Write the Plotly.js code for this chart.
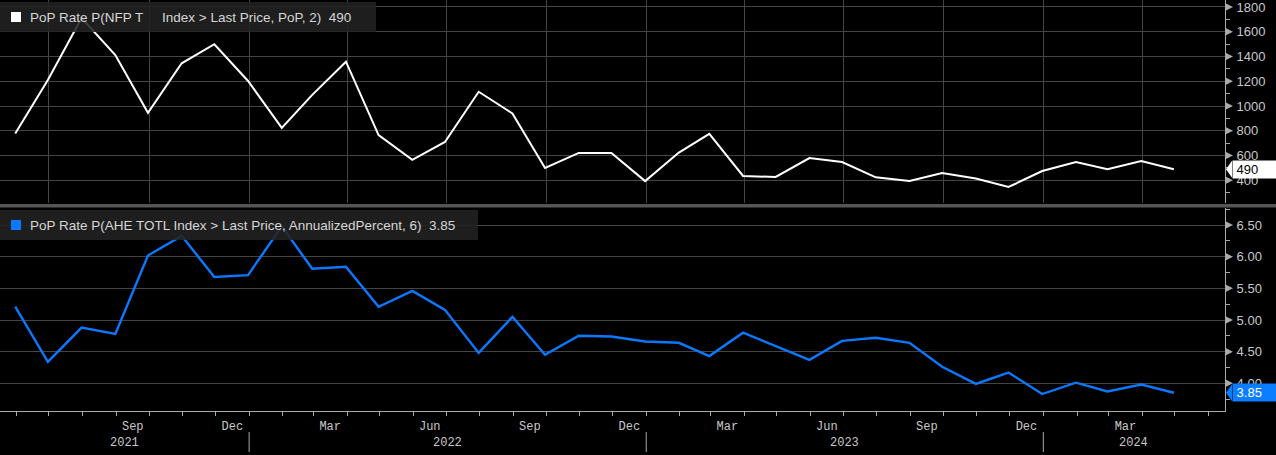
<!DOCTYPE html>
<html><head><meta charset="utf-8">
<script src="https://cdn.plot.ly/plotly-3.0.1.min.js"></script>
<style>html,body{margin:0;padding:0;background:#000;}#chart{width:1276px;height:455px;}</style>
</head><body><div id="chart"></div>
<script>
// ---- data ----
const months = ['2021-05-31','2021-06-30','2021-07-31','2021-08-31','2021-09-30','2021-10-31','2021-11-30','2021-12-31',
  '2022-01-31','2022-02-28','2022-03-31','2022-04-30','2022-05-31','2022-06-30','2022-07-31','2022-08-31','2022-09-30','2022-10-31','2022-11-30','2022-12-31',
  '2023-01-31','2023-02-28','2023-03-31','2023-04-30','2023-05-31','2023-06-30','2023-07-31','2023-08-31','2023-09-30','2023-10-31','2023-11-30','2023-12-31',
  '2024-01-31','2024-02-29','2024-03-31','2024-04-30'];
const nfpPoP2 = [778,1210,1710,1412,945,1345,1499,1202,824,1090,1358,765,565,710,1115,940,500,621,621,394,624,775,435,427,580,548,424,394,459,415,346,475,548,489,556,490];
const aheAnnualized = [5.21,4.34,4.88,4.78,6.02,6.33,5.68,5.71,6.48,5.81,5.84,5.21,5.46,5.16,4.48,5.05,4.45,4.75,4.74,4.66,4.64,4.43,4.80,4.59,4.37,4.67,4.72,4.64,4.26,3.99,4.17,3.83,4.01,3.87,3.98,3.85];
const years = ['2021','2022','2023','2024'];
const monthTicks = ['2021-09','2021-12','2022-03','2022-06','2022-09','2022-12',
  '2023-03','2023-06','2023-09','2023-12','2024-03'];
const monthTickText = ['Sep','Dec','Mar','Jun','Sep','Dec','Mar','Jun','Sep','Dec','Mar'];
const nameTop = 'PoP Rate P(NFP T\u00a0\u00a0\u00a0\u00a0\u00a0Index > Last Price, PoP, 2)';
const nameBottom = 'PoP Rate P(AHE TOTL Index > Last Price, AnnualizedPercent, 6)';

// ---- geometry / style ----
const W = 1276, H = 455, ML = 0, MR = 51, MT = 0, MB = 44;
const PW = W - ML - MR, PH = H - MT - MB;
const px = v => (v - ML) / PW;
const py = v => 1 - (v - MT) / PH;
const xRange = ['2021-05-17', '2024-06-16'];
const topRange = [217, 1856], botRange = [3.562, 6.77];
const grid = '#444444', axisCol = '#aaaaaa', tickTxt = '#c8c8c8';
const blue = '#0a78ff';
const monoFont = 'Liberation Mono, DejaVu Sans Mono, monospace';
const sansFont = 'Liberation Sans, Arial, sans-serif';

// month labels centred in their month
function monthMid(ym) {
  const [y, m] = ym.split('-').map(Number);
  const a = Date.UTC(y, m - 1, 1), b = Date.UTC(y, m, 1);
  return new Date((a + b) / 2).toISOString().slice(0, 19).replace('T', ' ');
}
const monthTickPos = monthTicks.map(monthMid);

const traces = [
  {x: months, y: nfpPoP2, xaxis: 'x2', yaxis: 'y2', type: 'scatter', mode: 'lines',
   line: {color: '#ffffff', width: 2}, hoverinfo: 'skip', showlegend: false},
  {x: months, y: aheAnnualized, xaxis: 'x', yaxis: 'y', type: 'scatter', mode: 'lines',
   line: {color: blue, width: 2.4}, hoverinfo: 'skip', showlegend: false}
];

const shapes = [];
const annotations = [];

// separator bar between panels
shapes.push({type: 'rect', xref: 'paper', yref: 'paper', x0: px(0), x1: px(W), y0: py(204), y1: py(207.5),
  fillcolor: '#555555', line: {width: 0}, layer: 'above'});

// tick triangles on right axes
function triangles(yref, range, step) {
  const start = Math.ceil(range[0] / step) * step;
  for (let v = start; v <= range[1] + 1e-9; v += step) {
    shapes.push({type: 'path', xref: 'paper', yref: yref, ysizemode: 'pixel', yanchor: v,
      path: `M 1 4 L ${1 + 8 / PW} 0 L 1 -4 Z`, fillcolor: axisCol, line: {width: 0}, layer: 'above'});
  }
}
triangles('y2', topRange, 200);
triangles('y', botRange, 0.5);

// legend boxes + squares + texts
function legendBox(top, right, color, text) {
  shapes.push({type: 'rect', xref: 'paper', yref: 'paper', x0: px(0), x1: px(right), y0: py(top), y1: py(top + 30),
    fillcolor: 'rgba(34,34,34,0.88)', line: {width: 0}, layer: 'above'});
  shapes.push({type: 'rect', xref: 'paper', yref: 'paper', x0: px(11), x1: px(21), y0: py(top + 10), y1: py(top + 20),
    fillcolor: color, line: {width: 0}, layer: 'above'});
  annotations.push({xref: 'paper', yref: 'paper', x: px(28), y: py(top + 15.5), xanchor: 'left', yanchor: 'middle',
    showarrow: false, text: text, font: {family: sansFont, size: 13.5, color: '#d6d6d6'}});
}
const lastTop = nfpPoP2[nfpPoP2.length - 1];
const lastBot = aheAnnualized[aheAnnualized.length - 1];
legendBox(2, 376, '#ffffff', nameTop + '\u00a0\u00a0' + lastTop);
legendBox(210, 478, blue, nameBottom + '\u00a0\u00a0' + lastBot.toFixed(2));

// last value badges
function badge(yref, v, txt, bg, fg) {
  shapes.push({type: 'path', xref: 'paper', yref: yref, ysizemode: 'pixel', yanchor: v,
    path: `M ${1 + 1 / PW} 0 L ${1 + 7 / PW} 8.5 L ${1 + 7 / PW} -8.5 Z`, fillcolor: bg, line: {width: 0}, layer: 'above'});
  annotations.push({xref: 'paper', yref: yref, x: 1 + 7 / PW, y: v, xanchor: 'left', yanchor: 'middle',
    showarrow: false, text: txt, align: 'left', width: 45, height: 17, borderpad: 0, bgcolor: bg,
    font: {family: sansFont, size: 13, color: fg}});
}
badge('y2', lastTop, '\u00a0' + lastTop, '#ffffff', '#000000');
badge('y', lastBot, '\u00a0' + lastBot.toFixed(2), '#0b7dff', '#ffffff');

// year labels and separators
const r0 = new Date(xRange[0]).getTime(), r1 = new Date(xRange[1]).getTime();
years.forEach((yr, i) => {
  const s = Math.max(r0, new Date(yr + '-01-01').getTime());
  const e = Math.min(r1, new Date((+yr + 1) + '-01-01').getTime());
  const mid = new Date((s + e) / 2).toISOString().slice(0, 10);
  annotations.push({xref: 'x', yref: 'paper', x: mid, y: py(443), xanchor: 'center', yanchor: 'middle',
    showarrow: false, text: yr, font: {family: monoFont, size: 12, color: tickTxt}});
  if (i > 0) {
    shapes.push({type: 'line', xref: 'x', yref: 'paper', x0: yr + '-01-01', x1: yr + '-01-01', y0: py(432), y1: py(452),
      line: {color: axisCol, width: 1}});
  }
});

const yTickFont = {family: sansFont, size: 13, color: tickTxt};
const layout = {
  width: W, height: H,
  margin: {l: ML, r: MR, t: MT, b: MB, pad: 0},
  paper_bgcolor: '#000', plot_bgcolor: '#000',
  showlegend: false,
  xaxis: {type: 'date', anchor: 'y', range: xRange, domain: [0, 1],
    tickmode: 'array', tickvals: monthTickPos, ticktext: monthTickText,
    showgrid: false, zeroline: false, showline: true, linecolor: axisCol, linewidth: 1,
    ticks: 'outside', ticklen: 4, tickcolor: 'rgba(0,0,0,0)',
    minor: {tickmode: 'linear', dtick: 'M1', tick0: '2021-01-01', ticks: 'outside', ticklen: 4, tickcolor: axisCol, showgrid: false},
    tickfont: {family: monoFont, size: 12, color: tickTxt}},
  xaxis3: {type: 'date', overlaying: 'x', anchor: 'y', range: xRange,
    dtick: 'M3', tick0: '2021-01-01', showgrid: true, gridcolor: grid, gridwidth: 1,
    showticklabels: false, ticks: '', showline: false, zeroline: false},
  xaxis2: {type: 'date', anchor: 'y2', range: xRange, domain: [0, 1],
    dtick: 'M3', tick0: '2021-01-01', showgrid: true, gridcolor: grid, gridwidth: 1,
    showticklabels: false, ticks: '', showline: false, zeroline: false},
  yaxis: {anchor: 'x', side: 'right', domain: [0, (PH - 208) / PH], range: botRange,
    dtick: 0.5, tick0: 0, tickformat: '.2f', showgrid: true, gridcolor: grid, zeroline: false,
    showline: true, linecolor: axisCol, linewidth: 1,
    ticks: 'outside', ticklen: 8, tickcolor: 'rgba(0,0,0,0)', ticklabeloverflow: 'allow',
    minor: {dtick: 0.25, ticks: 'outside', ticklen: 4, tickcolor: axisCol, showgrid: false},
    tickfont: yTickFont},
  yaxis2: {anchor: 'x2', side: 'right', domain: [(PH - 203) / PH, 1], range: topRange,
    dtick: 200, tick0: 0, showgrid: true, gridcolor: grid, zeroline: false,
    showline: true, linecolor: axisCol, linewidth: 1,
    ticks: 'outside', ticklen: 8, tickcolor: 'rgba(0,0,0,0)', ticklabeloverflow: 'allow',
    minor: {dtick: 100, ticks: 'outside', ticklen: 4, tickcolor: axisCol, showgrid: false},
    tickfont: yTickFont},
  shapes: shapes,
  annotations: annotations
};

Plotly.newPlot('chart', traces, layout, {displayModeBar: false, staticPlot: true});
</script>
</body></html>
